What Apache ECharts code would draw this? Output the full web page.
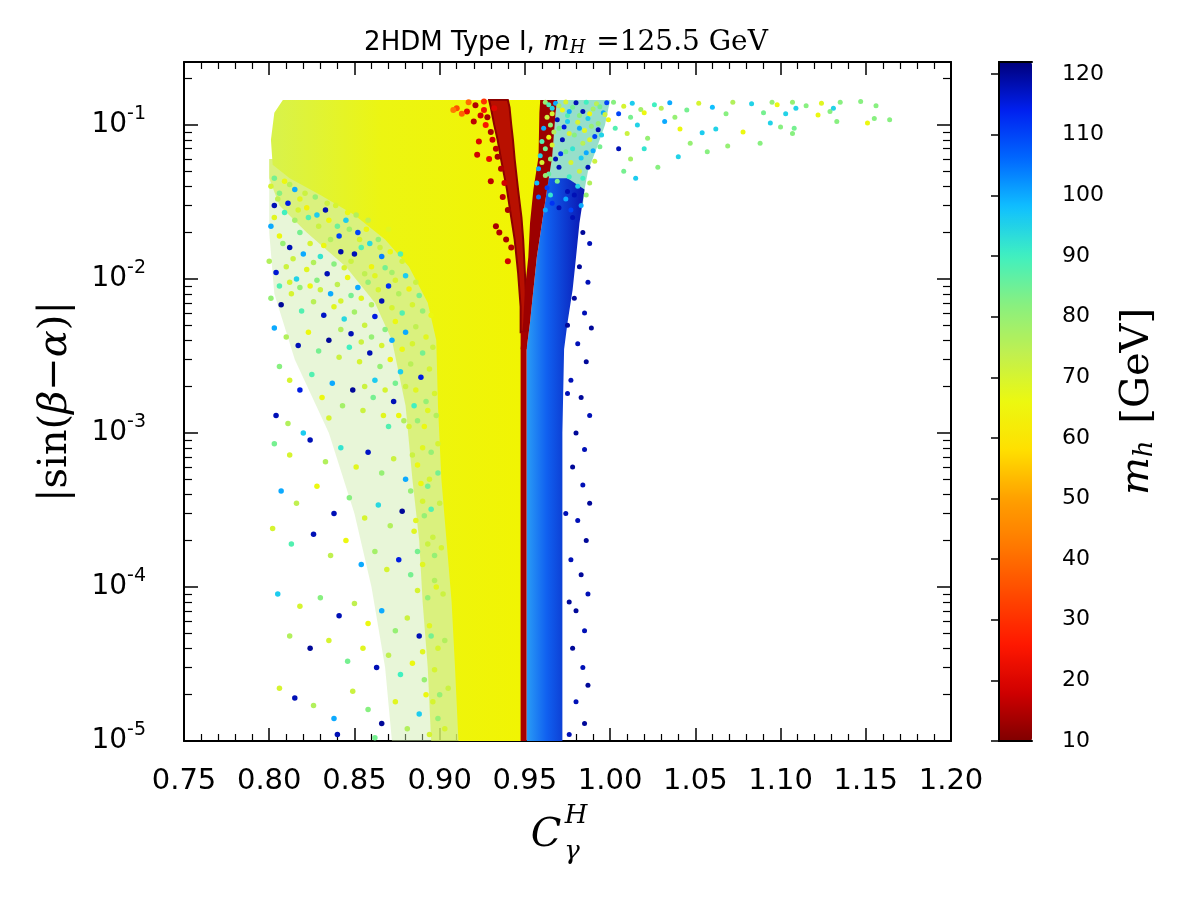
<!DOCTYPE html>
<html>
<head>
<meta charset="utf-8">
<script src="https://cdn.jsdelivr.net/npm/echarts@6/dist/echarts.min.js"></script>
<style>
html, body { margin: 0; background: #fff; }
#chart { width: 1200px; height: 900px; }
</style>
</head>
<body>
<div id="chart"></div>
<script>
// colour scale for m_h (10 .. 122 GeV, every 8 GeV)
const cbValues = [10, 18, 26, 34, 42, 50, 58, 66, 74, 82, 90, 98, 106, 114, 122];
const cbColors = ['#800000', '#d00000', '#ff1800', '#ff4800', '#ff7800', '#ffa000', '#ffe000',
    '#ecf810', '#c0f050', '#88f080', '#40f0c0', '#10c0ff', '#0068ff', '#0020f0', '#00007c'];
const cbTicks = [10, 20, 30, 40, 50, 60, 70, 80, 90, 100, 110, 120];

// minor log ticks of the y axis
const yMinor = [2e-5, 3e-5, 4e-5, 5e-5, 6e-5, 7e-5, 8e-5, 9e-5,
    2e-4, 3e-4, 4e-4, 5e-4, 6e-4, 7e-4, 8e-4, 9e-4,
    2e-3, 3e-3, 4e-3, 5e-3, 6e-3, 7e-3, 8e-3, 9e-3,
    2e-2, 3e-2, 4e-2, 5e-2, 6e-2, 7e-2, 8e-2, 9e-2, 2e-1];

// dense regions, boundaries (top -> bottom)
// yellow body (m_h ~ 62)
const bodyLY = [0.145, 0.12, 0.08, 0.055, 0.045, 0.035, 0.026, 0.018, 0.012, 0.007, 0.004, 1.5e-3, 5e-4, 2e-4, 8e-5, 3e-5, 1e-5];
const bodyLX = [0.808, 0.803, 0.801, 0.802, 0.812, 0.830, 0.850, 0.868, 0.882, 0.893, 0.898, 0.899, 0.901, 0.904, 0.907, 0.909, 0.911];
const bodyRY = [0.145, 0.12, 0.062, 0.038, 0.023, 0.0138, 0.0085, 0.0045, 1e-5];
const bodyRX = [0.963, 0.962, 0.960, 0.957, 0.955, 0.953, 0.951, 0.949, 0.949];
// half-filled yellow-green fringe left of the body
const haloLY = [0.06, 0.045, 0.03, 0.02, 0.012, 0.007, 0.004, 1.5e-3, 5e-4, 2e-4, 8e-5, 3e-5, 1e-5];
const haloLX = [0.800, 0.800, 0.806, 0.822, 0.845, 0.862, 0.872, 0.880, 0.884, 0.888, 0.890, 0.893, 0.895];
const haloRY = [0.06, 1e-5];
const haloRX = [0.930, 0.930];
// thinly scattered haze further left
const hazeLY = [0.06, 0.02, 0.008, 0.003, 1e-3, 3e-4, 1e-4, 3e-5, 1e-5];
const hazeLX = [0.800, 0.800, 0.803, 0.815, 0.835, 0.850, 0.860, 0.868, 0.872];
// mixed cyan / green cloud right of the red branch
const mixY = [0.145, 0.10, 0.07, 0.05, 0.038, 0.030];
const mixLX = [0.969, 0.967, 0.966, 0.964, 0.963, 0.962];
const mixRX = [1.000, 0.997, 0.992, 0.987, 0.985, 0.984];
// blue band (m_h ~ 100-120)
const blueY = [0.045, 0.038, 0.023, 0.0138, 0.0085, 0.0052, 0.0035, 1e-3, 1e-5];
const blueLX = [0.964, 0.963, 0.960, 0.957, 0.955, 0.953, 0.951, 0.951, 0.951];
const blueRX = [0.975, 0.985, 0.982, 0.980, 0.978, 0.975, 0.973, 0.972, 0.972];
// red branches (m_h ~ 12-20)
const leftBrY = [0.145, 0.13, 0.10, 0.08, 0.06, 0.038, 0.025, 0.018, 0.011, 0.0066, 0.0045];
const leftBrLX = [0.929, 0.930, 0.932, 0.934, 0.936, 0.9395, 0.942, 0.944, 0.946, 0.9475, 0.9475];
const leftBrRX = [0.940, 0.941, 0.942, 0.943, 0.944, 0.946, 0.948, 0.949, 0.950, 0.951, 0.951];
const rightBrY = [0.145, 0.12, 0.062, 0.038, 0.023, 0.0138, 0.0085, 0.0052, 0.0035];
const rightBrLX = [0.959, 0.9585, 0.958, 0.955, 0.953, 0.952, 0.950, 0.949, 0.9475];
const rightBrRX = [0.969, 0.968, 0.966, 0.963, 0.960, 0.957, 0.955, 0.953, 0.951];
const stemY = [0.0045, 1e-5];
const stemLX = [0.9475, 0.9475];
const stemRX = [0.951, 0.951];

// single points [C_gamma^H, |sin(beta-alpha)|, m_h]
const leftPts = [
    [0.801,0.040,70],[0.806,0.036,82],[0.812,0.041,75],[0.818,0.033,68],[0.803,0.030,118],[0.809,0.027,90],[0.815,0.024,78],[0.822,0.029,64],
    [0.828,0.026,96],[0.834,0.031,72],[0.840,0.022,85],[0.846,0.027,66],[0.852,0.020,110],[0.858,0.024,74],[0.864,0.018,80],[0.870,0.021,68],
    [0.801,0.022,100],[0.806,0.019,66],[0.812,0.016,118],[0.818,0.020,84],[0.824,0.017,70],[0.830,0.014,92],[0.836,0.018,76],[0.842,0.015,119],
    [0.848,0.013,72],[0.854,0.016,88],[0.860,0.012,65],[0.866,0.014,104],[0.872,0.011,78],[0.878,0.013,70],[0.800,0.013,76],[0.804,0.011,116],
    [0.810,0.012,72],[0.816,0.010,95],[0.822,0.0115,68],[0.828,0.0098,82],[0.834,0.0108,118],[0.840,0.0092,74],[0.846,0.0102,66],[0.852,0.0088,100],
    [0.858,0.0095,80],[0.864,0.0085,70],[0.870,0.0090,112],[0.876,0.0080,76],[0.882,0.0086,64],[0.888,0.0078,84],
    [0.801,0.0075,80],[0.807,0.0068,120],[0.813,0.0080,70],[0.819,0.0062,88],[0.826,0.0071,75],[0.832,0.0058,117],[0.838,0.0066,68],[0.844,0.0055,94],
    [0.850,0.0061,78],[0.856,0.0050,72],[0.862,0.0057,115],[0.868,0.0047,82],[0.874,0.0053,66],[0.880,0.0045,100],[0.886,0.0049,74],[0.892,0.0042,68],
    [0.803,0.0048,100],[0.810,0.0042,76],[0.817,0.0037,118],[0.823,0.0045,66],[0.829,0.0034,84],[0.835,0.0040,120],[0.841,0.0031,72],[0.847,0.0036,90],
    [0.853,0.0029,70],[0.859,0.0033,118],[0.865,0.0027,80],[0.871,0.0030,64],[0.877,0.0025,96],[0.883,0.0028,75],[0.889,0.0023,115],[0.894,0.0026,70],
    [0.806,0.0027,82],[0.812,0.0022,70],[0.818,0.0019,115],[0.825,0.0024,88],[0.831,0.0017,66],[0.837,0.0021,100],[0.843,0.0015,78],[0.849,0.0019,120],
    [0.855,0.0014,72],[0.861,0.0017,84],[0.867,0.0013,68],[0.873,0.0016,118],[0.879,0.0012,76],[0.885,0.0015,90],[0.891,0.0011,66],[0.804,0.0013,118],
    [0.811,0.00115,76],[0.820,0.0010,96],[0.835,0.00125,70],
    [0.803,0.00085,84],[0.812,0.00072,70],[0.824,0.00090,118],[0.833,0.00065,76],[0.842,0.00080,92],[0.851,0.00060,68],[0.858,0.00075,117],[0.866,0.00055,80],
    [0.873,0.00068,72],[0.880,0.00050,100],[0.887,0.00062,66],[0.893,0.00045,84],[0.807,0.00042,100],[0.816,0.00035,74],[0.828,0.00045,66],[0.838,0.00030,118],
    [0.847,0.00038,82],[0.856,0.00028,70],[0.864,0.00034,94],[0.871,0.00025,76],[0.878,0.00031,120],[0.885,0.00023,68],[0.891,0.00029,80],[0.896,0.00021,72],
    [0.802,0.00024,70],[0.813,0.00019,88],[0.826,0.00022,118],[0.836,0.00016,74],[0.845,0.00020,66],[0.854,0.00014,100],[0.862,0.00017,78],[0.869,0.00013,70],
    [0.876,0.00015,115],[0.883,0.00012,84],[0.890,0.00014,68],[0.897,0.00011,76],
    [0.805,0.000090,96],[0.818,0.000075,70],[0.830,0.000085,82],[0.841,0.000065,118],[0.850,0.000078,74],[0.858,0.000058,66],[0.866,0.000070,100],[0.874,0.000052,80],
    [0.881,0.000063,72],[0.888,0.000048,118],[0.894,0.000056,68],[0.812,0.000048,76],[0.824,0.000040,120],[0.835,0.000045,70],[0.846,0.000033,84],[0.855,0.000040,68],
    [0.863,0.000030,118],[0.870,0.000036,74],[0.877,0.000027,90],[0.884,0.000032,66],[0.891,0.000025,80],[0.897,0.000029,70],[0.806,0.000022,70],[0.815,0.000019,118],
    [0.826,0.000017,76],[0.838,0.000014,100],[0.849,0.000021,72],[0.858,0.000016,82],[0.866,0.000013,120],[0.874,0.000018,68],[0.881,0.000012,76],[0.888,0.000015,96],
    [0.894,0.000011,70],[0.840,0.000011,118],[0.862,0.0000105,84]
];
const fringePts = [
    [0.803,0.045,84],[0.809,0.043,66],[0.815,0.038,100],[0.821,0.036,72],[0.827,0.034,80],[0.833,0.028,118],[0.839,0.030,70],[0.845,0.024,96],
    [0.851,0.026,76],[0.857,0.021,66],[0.805,0.033,74],[0.811,0.031,115],[0.817,0.028,70],[0.823,0.025,88],[0.829,0.022,72],[0.835,0.024,66],
    [0.841,0.019,110],[0.847,0.021,78],[0.853,0.018,70],[0.859,0.017,94],[0.865,0.016,72],[0.871,0.015,66],[0.877,0.0145,88],[0.803,0.025,68],
    [0.808,0.017,80],[0.814,0.0135,72],[0.820,0.0145,100],[0.826,0.0128,76],[0.832,0.0165,66],[0.838,0.0125,82],[0.844,0.0118,70],[0.850,0.0145,118],
    [0.856,0.0108,74],[0.862,0.0105,68],[0.868,0.0118,84],[0.874,0.0098,70],[0.880,0.0105,96],[0.886,0.0095,72],
    [0.884,0.0068,70],[0.890,0.0062,80],[0.895,0.0058,66],[0.878,0.0060,88],[0.872,0.0065,70],[0.866,0.0072,118],[0.860,0.0068,76],[0.854,0.0075,68],
    [0.848,0.0078,84],[0.842,0.0072,70],[0.836,0.0080,100],[0.830,0.0085,72],[0.824,0.0090,66],[0.818,0.0088,80],[0.812,0.0095,70],[0.806,0.0090,88],
    [0.896,0.0036,72],[0.890,0.0033,84],[0.884,0.0038,70],[0.878,0.0035,66],[0.872,0.0040,100],[0.866,0.0037,70],[0.860,0.0042,80],[0.854,0.0039,72],
    [0.848,0.0044,118],[0.842,0.0047,76],[0.897,0.0018,70],[0.892,0.0016,80],[0.886,0.0019,68],[0.880,0.0020,72],[0.874,0.0021,84],[0.868,0.0019,70],
    [0.862,0.0022,96],[0.856,0.0020,72],[0.898,0.0013,76],[0.893,0.0014,68],[0.887,0.0012,80],[0.882,0.0011,70],[0.876,0.0013,66],[0.870,0.0011,88],
    [0.899,0.00085,70],[0.895,0.00075,80],[0.890,0.00080,68],[0.884,0.00072,72],[0.899,0.00055,84],[0.894,0.00050,70],[0.889,0.00047,66],[0.883,0.00042,80],
    [0.900,0.00035,72],[0.895,0.00032,88],[0.890,0.00036,70],[0.886,0.00027,68],[0.901,0.00018,70],[0.897,0.00016,80],[0.893,0.00019,72],[0.887,0.00017,84],
    [0.902,0.00009,72],[0.898,0.00010,68],[0.893,0.000085,80],[0.887,0.000095,70],[0.903,0.000045,76],[0.899,0.000040,70],[0.895,0.000048,84],[0.890,0.000038,68],
    [0.905,0.000022,72],[0.900,0.000020,80],[0.896,0.000018,70],[0.892,0.000020,66],[0.903,0.000012,70],[0.899,0.000014,80]
];
const mixPts = [
    [0.962,0.140,80],[0.968,0.138,100],[0.974,0.141,70],[0.980,0.139,118],[0.986,0.140,90],[0.992,0.137,75],[0.998,0.139,110],[0.966,0.128,95],
    [0.972,0.125,66],[0.978,0.130,84],[0.984,0.122,118],[0.990,0.127,78],[0.996,0.120,100],[0.963,0.112,72],[0.969,0.108,118],[0.975,0.115,88],
    [0.981,0.104,70],[0.987,0.110,96],[0.993,0.102,80],[0.999,0.108,65],[0.961,0.095,100],[0.967,0.090,76],[0.973,0.097,115],[0.979,0.086,82],
    [0.985,0.092,68],[0.991,0.084,110],[0.960,0.078,88],[0.966,0.074,70],[0.972,0.080,118],[0.978,0.070,92],[0.984,0.076,75],[0.990,0.068,100],
    [0.959,0.063,95],[0.965,0.060,80],[0.971,0.065,112],[0.977,0.057,70],[0.983,0.061,96],[0.958,0.052,100],[0.964,0.048,86],[0.970,0.053,118],
    [0.976,0.046,90],[0.982,0.050,72],[0.957,0.042,98],[0.963,0.039,110],[0.969,0.043,84],[0.975,0.037,118],[0.981,0.040,95],[0.958,0.034,105],
    [0.966,0.031,112],[0.974,0.033,100],[0.986,0.035,80],
    [0.994,0.131,84],[0.997,0.117,72],[0.993,0.093,118],[0.989,0.098,80],[0.995,0.086,95],[0.988,0.080,70],[0.994,0.072,84],[0.986,0.066,100],
    [0.991,0.058,72],[0.987,0.053,118],[0.984,0.045,90],[0.988,0.042,76],[0.979,0.035,118],[0.983,0.030,100],[0.977,0.028,110],[0.970,0.029,118],
    [0.962,0.028,100],[0.965,0.035,92],[0.962,0.047,80],[0.960,0.057,70],[0.962,0.070,84],[0.964,0.083,66],[0.965,0.100,80],[0.966,0.118,70],
    [0.964,0.135,88],[0.970,0.133,76],[0.976,0.122,100],[0.982,0.115,82],[0.988,0.118,66],[0.975,0.105,96],[0.970,0.095,84],[0.976,0.088,70],
    [0.982,0.095,100],[0.968,0.060,118],[0.974,0.067,84]
];
const tailPts = [
    [1.002,0.140,82],[1.008,0.132,70],[1.013,0.138,96],[1.018,0.126,78],[1.005,0.118,110],[1.012,0.112,84],[1.020,0.120,66],[1.026,0.135,90],
    [1.030,0.128,75],[1.035,0.139,100],[1.003,0.095,88],[1.010,0.088,72],[1.016,0.100,95],[1.022,0.082,80],[1.028,0.053,82],[1.040,0.062,95],
    [1.041,0.094,66],[1.047,0.076,80],[1.054,0.089,96],[1.057,0.067,82],[1.062,0.094,95],[1.069,0.073,80],[1.078,0.090,66],[1.083,0.137,95],
    [1.088,0.076,82],[1.090,0.120,84],[1.094,0.103,95],[1.095,0.140,80],[1.098,0.135,66],[1.100,0.097,82],[1.103,0.118,95],[1.107,0.088,82],
    [1.107,0.140,80],[1.108,0.095,84],[1.109,0.128,95],[1.115,0.133,82],[1.122,0.116,66],[1.124,0.138,68],[1.129,0.122,82],[1.131,0.128,95],
    [1.133,0.105,82],[1.135,0.140,82],[1.147,0.142,82],[1.151,0.103,66],[1.155,0.110,82],[1.156,0.133,82],[1.164,0.108,82],[1.045,0.125,84],
    [1.052,0.138,70],[1.060,0.130,98],[1.068,0.118,82],[1.072,0.140,76],[1.020,0.070,92],[1.012,0.060,78],[1.032,0.105,100],[1.038,0.112,80],
    [1.015,0.045,96],[1.005,0.070,118],[1.008,0.050,84]
];
const edgePts = [
    [0.978,0.025,118],[0.984,0.020,120],[0.988,0.017,118],[0.982,0.012,120],[0.987,0.0095,118],[0.979,0.0075,120],[0.985,0.0060,118],[0.989,0.0048,120],
    [0.981,0.0038,118],[0.986,0.0029,120],[0.977,0.0022,118],[0.983,0.0017,120],[0.988,0.0013,118],[0.980,0.0010,120],[0.985,0.00078,118],[0.978,0.00060,120],
    [0.984,0.00046,118],[0.988,0.00035,120],[0.981,0.00027,118],[0.986,0.00020,120],[0.977,0.00015,118],[0.983,0.00012,120],[0.987,0.000090,118],[0.980,0.000070,120],
    [0.985,0.000052,118],[0.978,0.000040,120],[0.984,0.000030,118],[0.987,0.000023,120],[0.980,0.000018,118],[0.985,0.000013,120],[0.976,0.000011,118],[0.975,0.0050,120],
    [0.974,0.00030,118],[0.976,0.000080,120],[0.975,0.0018,118]
];
const redPts = [
    [0.910,0.128,35],[0.916,0.122,22],[0.921,0.134,15],[0.924,0.115,18],[0.927,0.100,25],[0.930,0.090,14],[0.923,0.078,20],[0.933,0.070,16],
    [0.929,0.060,22],[0.936,0.052,15],[0.938,0.042,18],[0.935,0.020,15],[0.939,0.018,14],[0.942,0.016,15],[0.940,0.013,18],[0.917,0.140,40],
    [0.926,0.142,30],[0.932,0.128,20],[0.920,0.105,16],[0.908,0.125,42],[0.913,0.118,38],[0.922,0.064,18],[0.930,0.043,16],[0.933,0.022,14],
    [0.926,0.125,24],[0.928,0.112,14],[0.931,0.080,18],[0.934,0.062,14],[0.937,0.034,16],[0.940,0.028,14]
];

var chart = echarts.init(document.getElementById('chart'), null, {renderer: 'canvas'});
var Grad = echarts.graphic.LinearGradient;

function band(name, ly, lx, ry, rx, style) {
    return {
        name: name, type: 'custom', xAxisIndex: 0, yAxisIndex: 0, silent: true,
        data: [[lx[0], ly[0]]],
        renderItem: function (params, api) {
            var pts = [];
            for (var i = 0; i < ly.length; i++) pts.push(api.coord([lx[i], ly[i]]));
            for (var j = ry.length - 1; j >= 0; j--) pts.push(api.coord([rx[j], ry[j]]));
            return {type: 'polygon', shape: {points: pts}, style: style};
        }
    };
}
function dots(name, pts, size) {
    return {
        name: name, type: 'scatter', xAxisIndex: 0, yAxisIndex: 0, silent: true,
        symbolSize: size || 5, data: pts, itemStyle: {opacity: 1}
    };
}

var blk = '#000';
var axisLine = {show: true, lineStyle: {color: blk, width: 2}};
var serif = 'DejaVu Serif';

function yLabel(v) {
    var e = Math.round(Math.log10(v));
    if (Math.abs(v / Math.pow(10, e) - 1) > 1e-6) return '';
    return '{b|10}{s|' + e + '}';
}

var logY = {type: 'log', logBase: 10, min: 1e-5, max: 0.256, gridIndex: 0, splitLine: {show: false}};

var option = {
    animation: false,
    backgroundColor: '#fff',
    grid: [
        {left: 184, top: 62, width: 767, height: 679},
        {left: 999, top: 62, width: 33, height: 679}
    ],
    xAxis: [
        {
            type: 'value', gridIndex: 0, position: 'bottom', min: 0.75, max: 1.2, interval: 0.05,
            axisLine: axisLine, splitLine: {show: false},
            axisTick: {show: true, inside: true, length: 13, lineStyle: {color: blk, width: 1.5}},
            minorTick: {show: true, splitNumber: 5, length: 7, lineStyle: {color: blk, width: 1.2}},
            axisLabel: {formatter: function (v) { return v.toFixed(2); }, fontFamily: 'DejaVu Sans', fontSize: 29, color: blk, margin: 26}
        },
        {
            type: 'value', gridIndex: 0, position: 'top', min: 0.75, max: 1.2, interval: 0.05,
            axisLine: axisLine, splitLine: {show: false}, axisLabel: {show: false},
            axisTick: {show: true, inside: true, length: 13, lineStyle: {color: blk, width: 1.5}},
            minorTick: {show: true, splitNumber: 5, length: 7, lineStyle: {color: blk, width: 1.2}}
        },
        {type: 'value', gridIndex: 1, position: 'bottom', min: 0, max: 1, z: 10, axisLine: axisLine, axisTick: {show: false}, axisLabel: {show: false}, splitLine: {show: false}},
        {type: 'value', gridIndex: 1, position: 'top', min: 0, max: 1, z: 10, axisLine: axisLine, axisTick: {show: false}, axisLabel: {show: false}, splitLine: {show: false}}
    ],
    yAxis: [
        Object.assign({}, logY, {
            position: 'left', axisLine: axisLine,
            axisTick: {show: true, inside: true, length: 14, lineStyle: {color: blk, width: 1.5}},
            axisLabel: {
                formatter: yLabel, margin: 38, interval: 0, color: blk,
                rich: {
                    b: {fontFamily: 'DejaVu Sans', fontSize: 28, color: blk, lineHeight: 40},
                    s: {fontFamily: 'DejaVu Sans', fontSize: 19, color: blk, verticalAlign: 'top', lineHeight: 40}
                }
            },
            name: '{r||sin(}{i|β}{r|−}{i|α}{r|)|}', nameLocation: 'middle', nameRotate: 90, nameGap: 108,
            nameTextStyle: {
                rich: {
                    r: {fontFamily: serif, fontSize: 40, color: blk},
                    i: {fontFamily: serif, fontStyle: 'italic', fontSize: 40, color: blk}
                }
            }
        }),
        Object.assign({}, logY, {
            position: 'left', axisLine: {show: false}, axisLabel: {show: false},
            axisTick: {show: true, inside: true, length: 8, customValues: yMinor, lineStyle: {color: blk, width: 1.2}}
        }),
        Object.assign({}, logY, {
            position: 'right', axisLine: axisLine, axisLabel: {show: false},
            axisTick: {show: true, inside: true, length: 14, lineStyle: {color: blk, width: 1.5}}
        }),
        Object.assign({}, logY, {
            position: 'right', axisLine: {show: false}, axisLabel: {show: false},
            axisTick: {show: true, inside: true, length: 8, customValues: yMinor, lineStyle: {color: blk, width: 1.2}}
        }),
        {
            type: 'value', gridIndex: 1, position: 'right', min: 10, max: 122, interval: 10, z: 10,
            axisLine: axisLine, splitLine: {show: false},
            axisTick: {show: true, inside: true, length: 8, customValues: cbTicks, lineStyle: {color: blk, width: 1.5}},
            axisLabel: {customValues: cbTicks, fontFamily: 'DejaVu Sans', fontSize: 22, color: blk, margin: 30},
            name: '{i|m}{s|h}{r| [GeV]}', nameLocation: 'middle', nameRotate: 90, nameGap: 86,
            nameTextStyle: {
                rich: {
                    i: {fontFamily: serif, fontStyle: 'italic', fontSize: 40, color: blk},
                    s: {fontFamily: serif, fontStyle: 'italic', fontSize: 26, color: blk, verticalAlign: 'bottom', padding: [0, 4, 0, 0]},
                    r: {fontFamily: serif, fontSize: 40, color: blk}
                }
            }
        },
        {type: 'value', gridIndex: 1, position: 'left', min: 10, max: 122, z: 10, axisLine: axisLine, axisTick: {show: false}, axisLabel: {show: false}, splitLine: {show: false}}
    ],
    visualMap: {
        type: 'continuous', min: 10, max: 122, dimension: 2, seriesIndex: [5, 6, 7, 8, 9, 13],
        left: 999, top: 62, itemWidth: 33, itemHeight: 679, padding: 0,
        calculable: false, hoverLink: false, text: null,
        inRange: {color: cbColors}
    },
    graphic: [
        {
            type: 'text', x: 566, y: 43, silent: true,
            style: {
                text: '{a|2HDM Type I, }{m|m}{s|H}{b| =125.5 GeV}', align: 'center', verticalAlign: 'middle',
                rich: {
                    a: {fontFamily: 'DejaVu Sans', fontSize: 26, fill: blk},
                    m: {fontFamily: serif, fontStyle: 'italic', fontSize: 28, fill: blk},
                    s: {fontFamily: serif, fontStyle: 'italic', fontSize: 18, fill: blk, verticalAlign: 'bottom', padding: [0, 2, 0, 0]},
                    b: {fontFamily: serif, fontSize: 28, fill: blk}
                }
            }
        },
        {type: 'text', x: 546, y: 836, silent: true, style: {text: 'C', fontFamily: serif, fontStyle: 'italic', fontSize: 40, fill: blk, align: 'center', verticalAlign: 'middle'}},
        {type: 'text', x: 576, y: 816, silent: true, style: {text: 'H', fontFamily: serif, fontStyle: 'italic', fontSize: 26, fill: blk, align: 'center', verticalAlign: 'middle'}},
        {type: 'text', x: 572, y: 852, silent: true, style: {text: 'γ', fontFamily: serif, fontStyle: 'italic', fontSize: 26, fill: blk, align: 'center', verticalAlign: 'middle'}}
    ],
    series: [
        band('haze', hazeLY, hazeLX, haloRY, haloRX, {fill: '#cdeca8', opacity: 0.45}),
        band('fringe', haloLY, haloLX, haloRY, haloRX, {fill: '#d4f058', opacity: 0.7}),
        band('yellow body', bodyLY, bodyLX, bodyRY, bodyRX, {
            fill: new Grad(0, 0, 1, 0, [{offset: 0, color: '#d8f24c'}, {offset: 0.4, color: '#ecf512'}, {offset: 1, color: '#f2f400'}])
        }),
        band('mixed cloud', mixY, mixLX, mixY, mixRX, {fill: '#74d4b8', opacity: 0.75}),
        band('blue band', blueY, blueLX, blueY, blueRX, {
            fill: new Grad(0, 0, 1, 0, [{offset: 0, color: '#2a9cf5'}, {offset: 0.35, color: '#1060f0'}, {offset: 1, color: '#0a14b0'}])
        }),
        dots('left points', leftPts, 5.5),
        dots('fringe points', fringePts, 5.5),
        dots('cloud points', mixPts),
        dots('tail points', tailPts),
        dots('edge points', edgePts),
        band('left branch', leftBrY, leftBrLX, leftBrY, leftBrRX, {fill: '#b81000', stroke: '#8c0000', lineWidth: 2}),
        band('right branch', rightBrY, rightBrLX, rightBrY, rightBrRX, {fill: '#9c0000'}),
        band('stem', stemY, stemLX, stemY, stemRX, {fill: '#a80000'}),
        dots('red points', redPts, 6)
    ]
};
chart.setOption(option);
</script>
</body>
</html>
